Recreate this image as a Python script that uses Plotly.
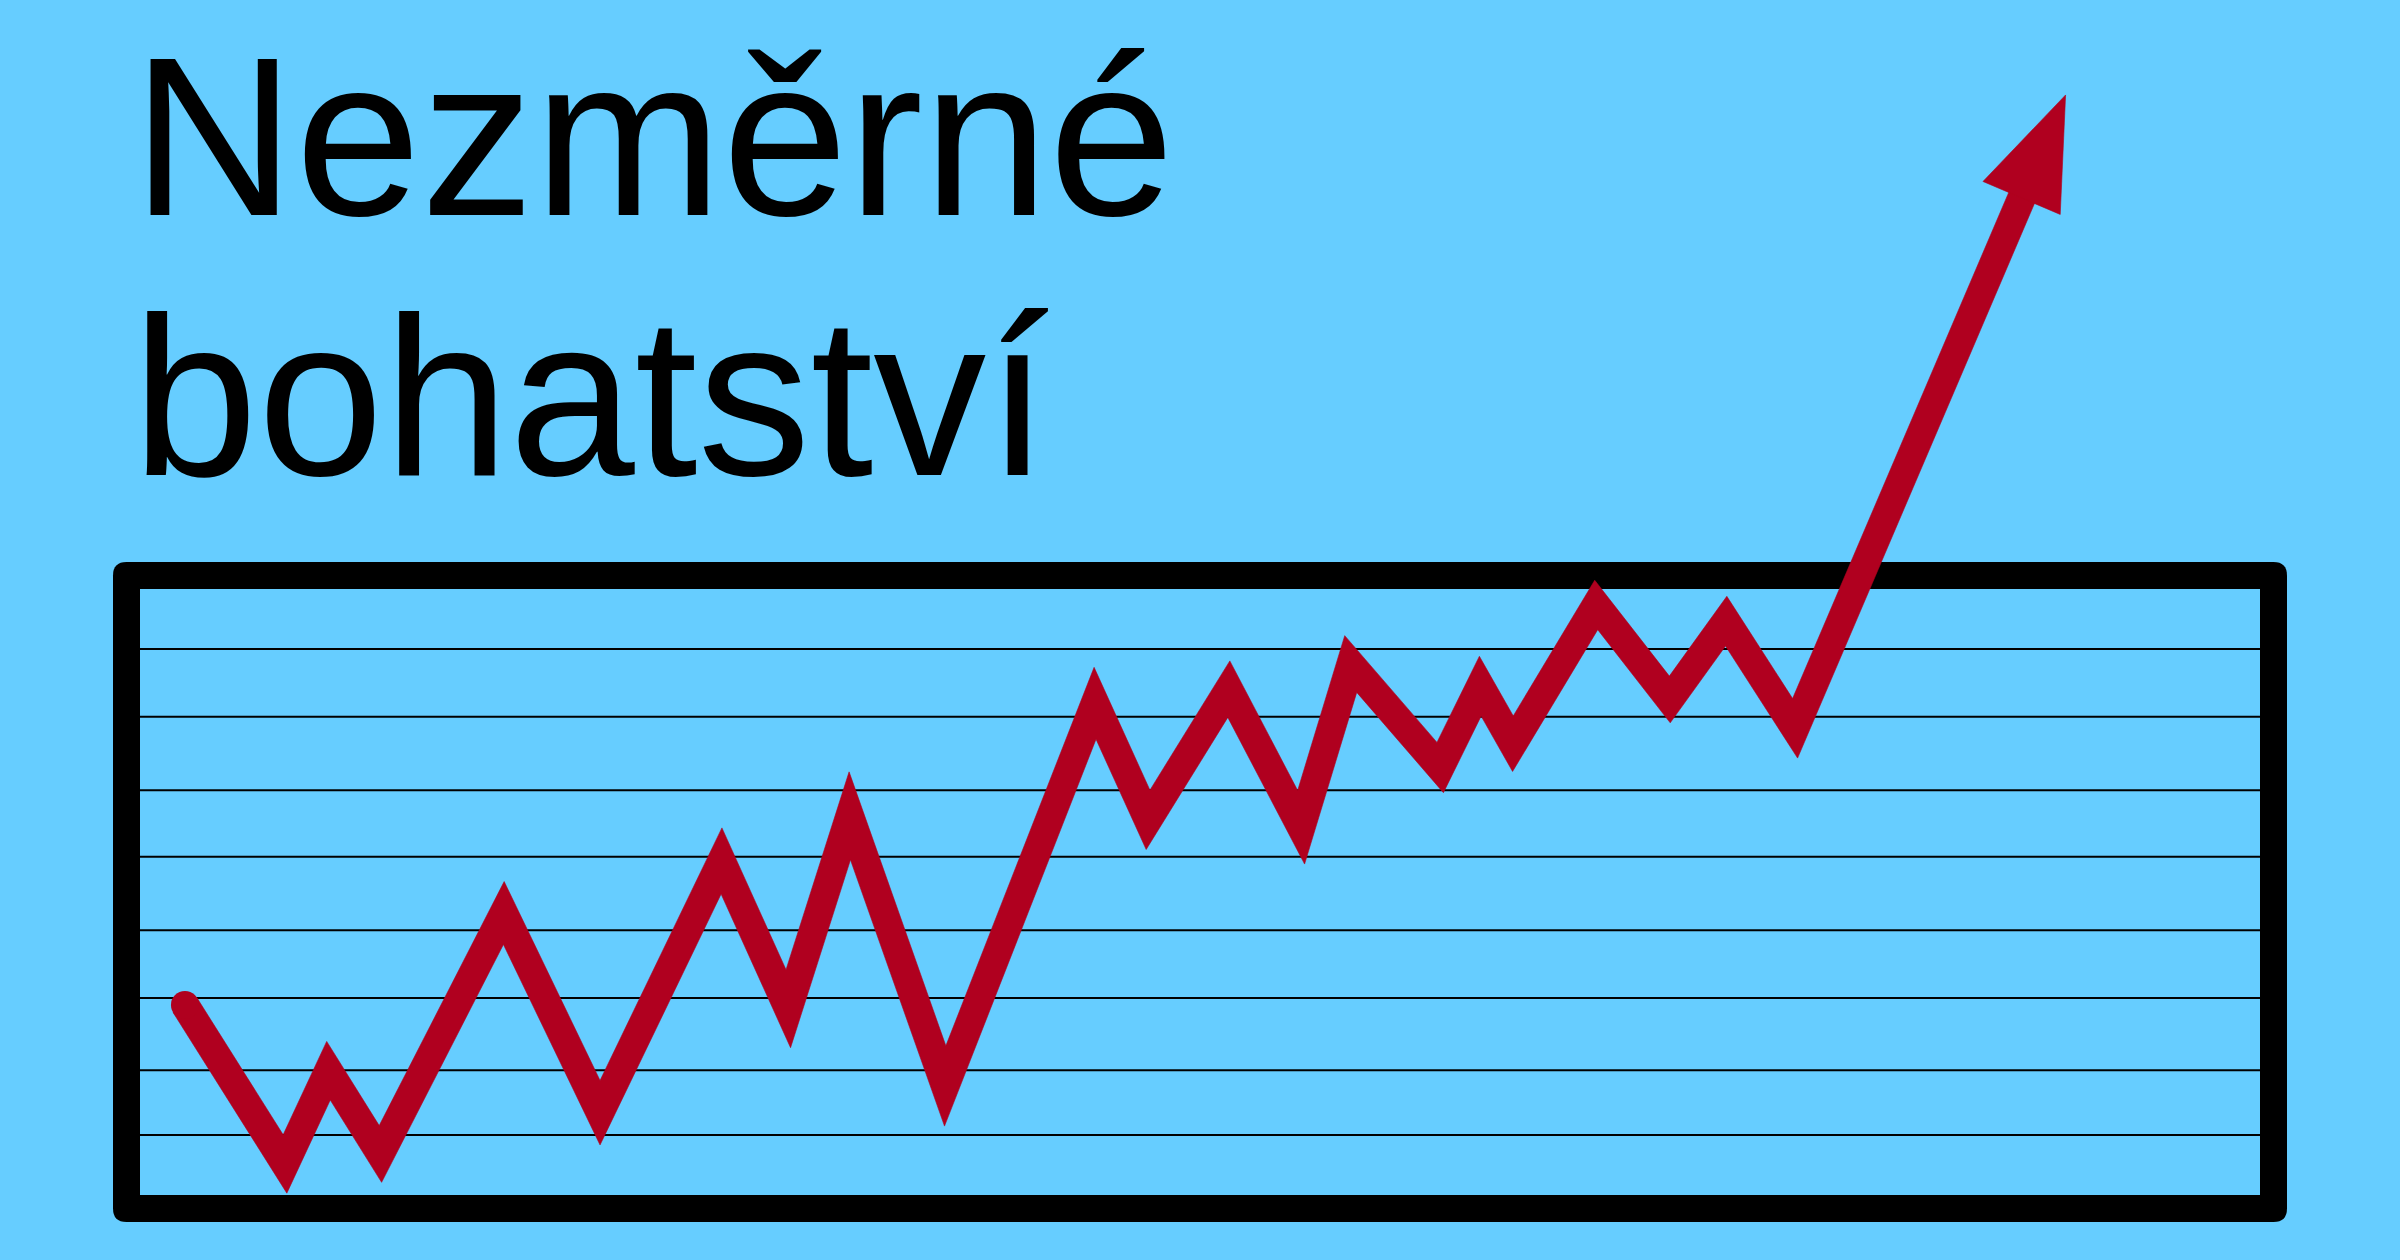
import math
import plotly.graph_objects as go

W, H = 2400, 1260
BG = "#66CDFF"
RED = "#B0001F"

# ---- data (x: % of box width, y: % of box height) ----
x_vals = [2.12, 6.84, 8.89, 11.34, 17.16, 21.70, 27.43, 30.58, 33.48, 37.98, 45.05,
          47.55, 51.36, 54.77, 57.11, 61.33, 63.22, 64.76, 68.69, 72.16, 74.82, 78.07, 90.83]
y_vals = [31.35, 5.12, 20.51, 6.77, 46.53, 13.58, 55.12, 30.74, 62.57, 17.99, 81.14,
          61.91, 83.47, 60.68, 87.62, 70.54, 83.96, 74.47, 97.36, 81.77, 94.69, 77.01, 181.52]
grid_levels = [9.9, 20.6, 32.5, 43.7, 55.8, 66.8, 78.9, 90.1]
title_lines = ["Nezměrné", "bohatství"]

BOX = [0, 100]
X_RANGE = [-6.604, 106.604]
Y_RANGE = [-10.726, 197.19]

sx = W / (X_RANGE[1] - X_RANGE[0])
sy = H / (Y_RANGE[1] - Y_RANGE[0])

LINE_W = 28
FRAME_W = 27

# ---- arrow head geometry from last two points ----
tx, ty = x_vals[-1], y_vals[-1]
qx, qy = x_vals[-2], y_vals[-2]
dx, dy = (tx - qx) * sx, (ty - qy) * sy
L = math.hypot(dx, dy)
ux, uy = dx / L, dy / L
head_len, head_half, shaft_stop = 112, 42, 106
bx, by = tx - ux * head_len / sx, ty - uy * head_len / sy
hx = [tx, bx - uy * head_half / sx, bx + uy * head_half / sx, tx]
hy = [ty, by + ux * head_half / sy, by - ux * head_half / sy, ty]
line_x = x_vals[:-1] + [tx - ux * shaft_stop / sx]
line_y = y_vals[:-1] + [ty - uy * shaft_stop / sy]


# ---- stroke outline with mitred joins (pixel space, converted back to data) ----
def stroke_outline(xs, ys, width):
    P = [(x * sx, y * sy) for x, y in zip(xs, ys)]
    h = width / 2
    normals = []
    for (ax, ay), (cx, cy) in zip(P[:-1], P[1:]):
        ex, ey = cx - ax, cy - ay
        n = math.hypot(ex, ey)
        normals.append((-ey / n, ex / n))
    left, right = [], []
    for i, (px_, py_) in enumerate(P):
        if i == 0:
            mx, my = normals[0]
            k = h
        elif i == len(P) - 1:
            mx, my = normals[-1]
            k = h
        else:
            n0, n1 = normals[i - 1], normals[i]
            mx, my = n0[0] + n1[0], n0[1] + n1[1]
            mn = math.hypot(mx, my)
            mx, my = mx / mn, my / mn
            k = h / (mx * n1[0] + my * n1[1])
        left.append((px_ + mx * k, py_ + my * k))
        right.append((px_ - mx * k, py_ - my * k))
    poly = left + right[::-1] + [left[0]]
    return [p[0] / sx for p in poly], [p[1] / sy for p in poly]


ox_, oy_ = stroke_outline(line_x, line_y, LINE_W)

fig = go.Figure()
fig.add_trace(go.Scatter(x=ox_, y=oy_, mode="lines", fill="toself", fillcolor=RED,
                         line=dict(color=RED, width=0.6), hoverinfo="skip"))
fig.add_trace(go.Scatter(x=hx, y=hy, mode="lines", fill="toself", fillcolor=RED,
                         line=dict(color=RED, width=0.6), hoverinfo="skip"))
fig.add_trace(go.Scatter(x=[x_vals[0]], y=[y_vals[0]], mode="markers",
                         marker=dict(color=RED, size=LINE_W, line=dict(width=0)),
                         hoverinfo="skip"))

# ---- frame (rounded outer corners) ----
ox = FRAME_W / sx
oy = FRAME_W / sy
rx = FRAME_W / 2 / sx
ry = FRAME_W / 2 / sy
x0, x1 = BOX[0] - ox, BOX[1] + ox
y0, y1 = BOX[0] - oy, BOX[1] + oy
path = (f"M {x0+rx},{y1} L {x1-rx},{y1} Q {x1},{y1} {x1},{y1-ry} "
        f"L {x1},{y0+ry} Q {x1},{y0} {x1-rx},{y0} L {x0+rx},{y0} "
        f"Q {x0},{y0} {x0},{y0+ry} L {x0},{y1-ry} Q {x0},{y1} {x0+rx},{y1} Z")
shapes = [
    dict(type="path", path=path, xref="x", yref="y", fillcolor="black",
         line=dict(width=0), layer="below"),
    dict(type="rect", x0=BOX[0], x1=BOX[1], y0=BOX[0], y1=BOX[1], xref="x", yref="y",
         fillcolor=BG, line=dict(width=0), layer="below"),
]
for g in grid_levels:
    shapes.append(dict(type="line", x0=BOX[0], x1=BOX[1], y0=g, y1=g, xref="x", yref="y",
                       line=dict(color="black", width=2), layer="below"))

annotations = []
title_tops = [8, 268]
for t, top in zip(title_lines, title_tops):
    annotations.append(dict(text=t, x=130 / W, y=1 - top / H, xref="paper", yref="paper",
                            xanchor="left", yanchor="top", showarrow=False,
                            font=dict(family="Liberation Sans, Arial, sans-serif",
                                      size=226, color="black")))

fig.update_layout(
    width=W, height=H, margin=dict(l=0, r=0, t=0, b=0, pad=0),
    paper_bgcolor=BG, plot_bgcolor=BG, showlegend=False,
    xaxis=dict(range=X_RANGE, visible=False, fixedrange=True),
    yaxis=dict(range=Y_RANGE, visible=False, fixedrange=True),
    shapes=shapes, annotations=annotations,
)
fig.write_html("out.html", config={"displayModeBar": False})
